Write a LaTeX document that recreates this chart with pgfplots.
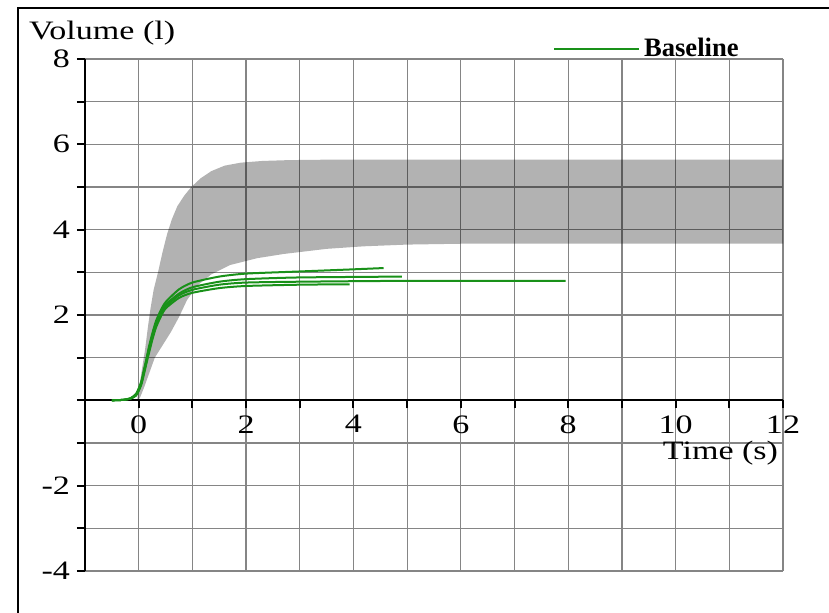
\documentclass[border=0pt]{standalone}
\usepackage{fontspec}
\setmainfont{Liberation Serif}[FakeStretch=1.28]
\newfontfamily\legfont{Liberation Serif}
\usepackage{pgfplots}
\pgfplotsset{compat=1.18}
\definecolor{grn}{RGB}{25,145,25}
\begin{document}
\begin{tikzpicture}[font=\fontsize{13.3pt}{15pt}\selectfont]
\begin{axis}[
 at={(0,0)}, anchor=south west,
 scale only axis, width=349pt, height=256pt,
 xmin=-1, xmax=12, ymin=-4, ymax=8,
 axis x line*=middle, axis y line*=left,
 axis line style={-, black, line width=1pt},
 xtick={0,2,...,12}, minor xtick={1,3,...,11},
 ytick={-4,-2,2,4,6,8}, minor ytick={-3,-1,0,1,3,5,7},
 grid=both,
 major grid style={black!48, line width=0.6pt},
 minor grid style={black!48, line width=0.6pt},
 tick align=outside,
 major tick length=4pt, minor tick length=4pt,
 tick style={black, line width=1pt},
 /pgf/number format/assume math mode=true,
 xlabel={Time (s)}, ylabel={Volume (l)},
 every axis x label/.style={at={(axis description cs:1.003,0.268)}, anchor=north east},
 every axis y label/.style={at={(axis description cs:-0.090,1.039)}, anchor=base west},
 legend style={at={(axis description cs:0.67,1.0195)}, anchor=west, draw=none, fill=none, inner sep=0pt, font=\legfont\fontsize{13.3pt}{15pt}\selectfont\bfseries},
 legend image code/.code={\draw[#1] (0pt,0pt) -- (42.5pt,0pt);},
]
% reference band
\addplot[draw=none, fill=black, fill opacity=0.3, forget plot] coordinates {
(-0.03,0) (0.02,0.4) (0.07,0.8) (0.12,1.2) (0.17,1.7) (0.22,2.15) (0.28,2.6) (0.36,3.0) (0.44,3.45) (0.53,3.9) (0.62,4.25) (0.72,4.55) (0.85,4.8) (0.98,5.0) (1.15,5.2) (1.35,5.37) (1.6,5.5) (1.9,5.57) (2.3,5.61) (2.8,5.63) (3.5,5.64) (12,5.64)
(12,3.67) (6,3.67) (5,3.65) (4.2,3.61) (3.5,3.55) (2.7,3.43) (2.2,3.33) (1.7,3.17) (1.35,2.95) (1.1,2.7) (0.9,2.35) (0.75,1.95) (0.6,1.6) (0.45,1.3) (0.3,1.0) (0.2,0.65) (0.1,0.3) (0.02,0.05)
} -- cycle;
% baseline curves
\addplot[grn, line width=1pt, smooth, tension=0.4] coordinates {
(-0.5,0) (-0.3,0.01) (-0.15,0.05) (-0.05,0.15) (0,0.28) (0.05,0.45) (0.09,0.68) (0.14,0.95) (0.19,1.25) (0.25,1.55) (0.32,1.85) (0.4,2.08) (0.5,2.3) (0.75,2.6) (1,2.76) (1.5,2.9) (2,2.97) (3,3.02) (4,3.07) (4.56,3.1)};
\addlegendentry{Baseline}
\addplot[grn, line width=1pt, smooth, tension=0.4, forget plot] coordinates {
(-0.5,0) (-0.3,0.01) (-0.15,0.05) (-0.05,0.14) (0,0.26) (0.05,0.42) (0.09,0.64) (0.14,0.92) (0.19,1.2) (0.25,1.5) (0.32,1.8) (0.4,2.03) (0.5,2.24) (0.75,2.5) (1,2.65) (1.5,2.78) (2,2.84) (3,2.88) (4.9,2.9)};
\addplot[grn, line width=1pt, smooth, tension=0.4, forget plot] coordinates {
(-0.5,0) (-0.3,0.01) (-0.15,0.04) (-0.05,0.12) (0,0.24) (0.05,0.4) (0.09,0.6) (0.14,0.88) (0.19,1.15) (0.25,1.45) (0.32,1.75) (0.4,1.98) (0.5,2.2) (0.75,2.46) (1,2.59) (1.5,2.71) (2,2.76) (3,2.78) (5,2.8) (7.95,2.8)};
\addplot[grn, line width=1pt, smooth, tension=0.4, forget plot] coordinates {
(-0.5,0) (-0.3,0.01) (-0.15,0.04) (-0.05,0.11) (0,0.22) (0.05,0.37) (0.09,0.57) (0.14,0.84) (0.19,1.1) (0.25,1.4) (0.32,1.7) (0.4,1.93) (0.5,2.15) (0.75,2.4) (1,2.52) (1.5,2.63) (2,2.68) (3,2.71) (3.93,2.72)};
\end{axis}
\draw[line width=1pt] (-33.5pt,-30pt) -- (-33.5pt,281.25pt) -- (380pt,281.25pt);
\pgfresetboundingbox
\useasboundingbox (-42.5pt,-21pt) rectangle (372pt,285.5pt);
\end{tikzpicture}
\end{document}
